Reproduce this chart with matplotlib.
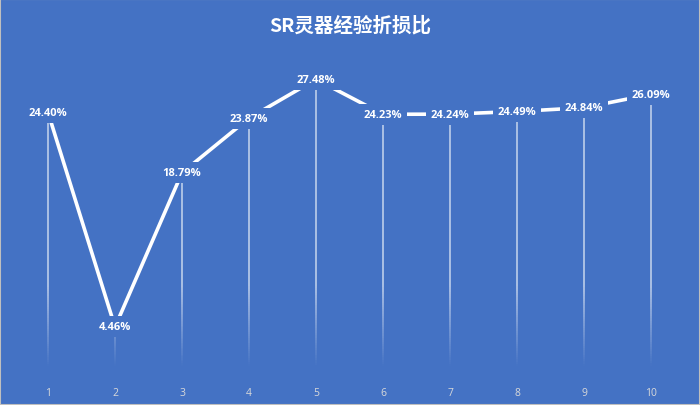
import numpy as np
import matplotlib.pyplot as plt
from matplotlib.collections import LineCollection

plt.rcParams['font.family'] = ['Noto Sans CJK SC', 'DejaVu Sans']

# 数据
categories = ['1', '2', '3', '4', '5', '6', '7', '8', '9', '10']
values = [24.40, 4.46, 18.79, 23.87, 27.48, 24.23, 24.24, 24.49, 24.84, 26.09]
title = 'SR灵器经验折损比'

bg = '#4472C4'

fig = plt.figure(figsize=(7, 4.06), dpi=100, facecolor=bg)
fig.patches.append(plt.Rectangle((0, 0), 1, 1, transform=fig.transFigure,
                                 fill=False, edgecolor='#BFBFBF', lw=1.5))
ax = fig.add_axes([0.0207, 0.074, 0.9573, 0.795])
ax.set_facecolor(bg)

x = np.arange(1, len(values) + 1)

# 垂直线（底部渐隐）
for xi, v in zip(x, values):
    ys = np.linspace(0, v, 120)
    segs = [[(xi, ys[i]), (xi, ys[i + 1])] for i in range(len(ys) - 1)]
    mids = (ys[:-1] + ys[1:]) / 2
    alphas = np.clip((mids - 0.8) / 7.5, 0, 1) * 0.7
    colors = [(1, 1, 1, a) for a in alphas]
    ax.add_collection(LineCollection(segs, colors=colors, linewidths=1.1, zorder=1))

ax.plot(x, values, color='white', lw=2.6, zorder=2, solid_capstyle='butt')

for xi, v in zip(x, values):
    ax.text(xi, v, f'{v:.2f}%', ha='center', va='center', color='white',
            fontsize=8, fontweight='bold', family=['Open Sans', 'DejaVu Sans'],
            zorder=3, bbox=dict(boxstyle='square,pad=0.45', fc=bg, ec='none'))

ax.set_xlim(0.5, len(values) + 0.5)
ax.set_ylim(0, 30)
ax.set_xticks(x)
ax.set_xticklabels(categories, color='#D9D9D9', fontsize=7.5, family=['Open Sans', 'DejaVu Sans'])
ax.tick_params(axis='x', length=0, pad=9)
ax.set_yticks([])
for s in ax.spines.values():
    s.set_visible(False)

fig.text(0.5, 0.938, title, ha='center', va='center', color='white',
         fontsize=14, fontweight='bold')

fig.savefig('out.png', dpi=100, facecolor=bg)
